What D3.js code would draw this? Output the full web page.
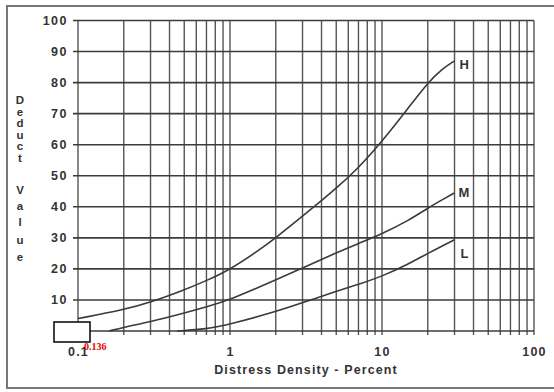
<!DOCTYPE html>
<html>
<head>
<meta charset="utf-8">
<script src="https://cdn.jsdelivr.net/npm/d3@7"></script>
<style>
  html, body { margin: 0; padding: 0; background: #fff; }
  svg { display: block; }
  text { font-family: "Liberation Sans", Arial, sans-serif; font-weight: bold; fill: #333; }
</style>
</head>
<body>
<svg id="chart" width="554" height="392"></svg>
<script>
// ---- data ----
const xTickLabels = [0.1, 1, 10, 100];
const yTickValues = [0, 10, 20, 30, 40, 50, 60, 70, 80, 90, 100];
const yTickLabels = ["", "10", "20", "30", "40", "50", "60", "70", "80", "90", "100"];

const highDensity = [0.1, 0.2, 0.3, 0.5, 0.7, 1, 1.5, 2, 3, 4, 5, 7, 10, 15, 20, 25, 30];
const highDeduct  = [4, 6.8, 9.2, 13.2, 16.2, 19.8, 25.5, 30, 37, 42, 46, 52.5, 61, 72, 80, 84.5, 87];

const mediumDensity = [0.16, 0.2, 0.3, 0.5, 0.7, 1, 2, 3, 5, 7, 10, 15, 20, 25, 30];
const mediumDeduct  = [0, 1.2, 3, 5.8, 7.8, 10, 16.5, 20.3, 25.2, 28.2, 31.3, 35.6, 39.6, 42.3, 44.5];

const lowDensity = [0.45, 0.7, 1, 2, 3, 5, 7, 10, 15, 20, 30];
const lowDeduct  = [0, 0.6, 2.2, 6.2, 9.1, 12.8, 15, 17.6, 21.6, 25, 29.4];

const seriesNames = ["H", "M", "L"];
const yTitle = "Deduct Value";
const xTitle = "Distress Density - Percent";
const noteText = "0.136";

// ---- layout ----
const svg = d3.select("#chart");
const x = d3.scaleLog().domain([0.1, 100]).range([78, 534]);
const y = d3.scaleLinear().domain([0, 100]).range([331, 20.5]);

// outer frame
svg.append("path")
  .attr("d", "M554,6 H7 V388 H554")
  .attr("fill", "none").attr("stroke", "#777").attr("stroke-width", 2);

// vertical grid
const grid = svg.append("g");
grid.selectAll("line.v").data(x.ticks()).join("line")
  .attr("class", "v")
  .attr("x1", d => x(d)).attr("x2", d => x(d))
  .attr("y1", y(100)).attr("y2", y(0) + 4)
  .attr("stroke", "#555").attr("stroke-width", 1.4);

// horizontal grid
grid.selectAll("line.h").data(yTickValues).join("line")
  .attr("class", "h")
  .attr("x1", x(0.1) - 5).attr("x2", x(100))
  .attr("y1", d => y(d)).attr("y2", d => y(d))
  .attr("stroke", "#3c3c3c").attr("stroke-width", 1.6);

// y axis labels
const yAxis = d3.axisLeft(y).tickValues(yTickValues)
  .tickFormat((d, i) => yTickLabels[i]).tickSize(0).tickPadding(10);
const gy = svg.append("g").attr("transform", `translate(${x(0.1)},0)`).call(yAxis);
gy.select(".domain").remove();
gy.selectAll("text")
  .style("font-family", "'Liberation Sans', Arial, sans-serif")
  .style("font-weight", "bold").style("font-size", "12.5px")
  .style("letter-spacing", "1.5px").attr("fill", "#333");

// x axis labels
const xAxis = d3.axisBottom(x).tickValues(xTickLabels)
  .tickFormat(d => String(d)).tickSize(0).tickPadding(16);
const gx = svg.append("g").attr("transform", `translate(0,${y(0)})`).call(xAxis);
gx.select(".domain").remove();
gx.selectAll("text")
  .style("font-family", "'Liberation Sans', Arial, sans-serif")
  .style("font-weight", "bold").style("font-size", "12.5px")
  .style("letter-spacing", "1.2px").attr("fill", "#333");

// x title
svg.append("text")
  .attr("x", 306).attr("y", 374)
  .attr("text-anchor", "middle")
  .style("font-size", "12.5px").style("letter-spacing", "1.1px")
  .text(xTitle);

// y title (stacked letters)
const letters = yTitle.split("");
const letterY = [100, 111.5, 123, 134.5, 146, 157.5, null, 190, 206, 222, 240, 257];
const yt = svg.append("g");
letters.forEach((ch, i) => {
  if (ch === " ") return;
  yt.append("text").attr("x", 20).attr("y", letterY[i] + 4)
    .attr("text-anchor", "middle").style("font-size", "11.5px").text(ch);
});

// curves
const series = [
  { name: seriesNames[0], xs: highDensity, ys: highDeduct },
  { name: seriesNames[1], xs: mediumDensity, ys: mediumDeduct },
  { name: seriesNames[2], xs: lowDensity, ys: lowDeduct }
];
const line = d3.line().x(d => x(d[0])).y(d => y(d[1])).curve(d3.curveBasis);
series.forEach(s => {
  const pts = s.xs.map((v, i) => [v, s.ys[i]]);
  svg.append("path").attr("d", line(pts))
    .attr("fill", "none").attr("stroke", "#3a3a3a").attr("stroke-width", 1.6);
});

// series labels
const labelOffsets = { H: [5, 8], M: [4, 4.5], L: [6, 18] };
series.forEach(s => {
  const lx = s.xs[s.xs.length - 1], ly = s.ys[s.ys.length - 1];
  const o = labelOffsets[s.name];
  svg.append("text")
    .attr("x", x(lx) + o[0]).attr("y", y(ly) + o[1])
    .style("font-size", "13px").text(s.name);
});

// annotation box
svg.append("rect").attr("x", 54).attr("y", 322).attr("width", 36).attr("height", 20)
  .attr("fill", "#fff").attr("stroke", "#111").attr("stroke-width", 1.6);
svg.append("text").attr("x", 84).attr("y", 350)
  .style("font-family", "'Liberation Serif', 'Times New Roman', serif")
  .style("font-size", "10px").style("font-weight", "bold")
  .style("fill", "#e00000").text(noteText);
</script>
</body>
</html>
